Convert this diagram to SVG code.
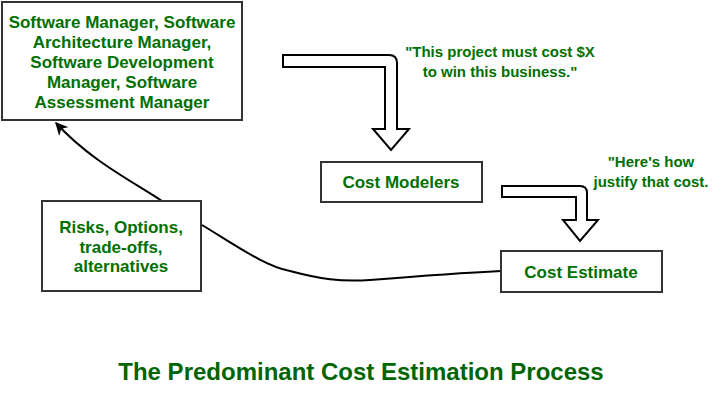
<svg xmlns="http://www.w3.org/2000/svg" width="722" height="402" viewBox="0 0 722 402">
<defs>
<style>
.box{fill:#fff;stroke:#333;stroke-width:2}
.t{font-family:"Liberation Sans",Arial,sans-serif;font-weight:bold;font-size:17px;fill:#007000;text-anchor:middle}
.q{font-size:15px}
.title{font-size:24px;fill:#006400}
.conn{fill:none;stroke:#000;stroke-width:2}
.hollow{fill:#fff;stroke:#000;stroke-width:2;stroke-linejoin:miter}
</style>
<marker id="ah" viewBox="0 0 10 10" refX="9" refY="5" markerWidth="13" markerHeight="13" orient="auto" markerUnits="userSpaceOnUse">
<path d="M0,0 L10,5 L0,10 L3,5 Z" fill="#000"/>
</marker>
</defs>
<rect width="722" height="402" fill="#fff"/>
<g id="connectors">
<path class="conn" d="M162,201 C130,180 90,160 56,123" marker-end="url(#ah)"/>
<path class="conn" d="M202,225 C240,248 265,266 290,271 C320,279 340,282 370,280 C420,276 460,273 501,271"/>
<path class="hollow" d="M283,55 L389,55 Q397,55 397,63 L397,129 L409,129 L391,150 L373,129 L385,129 L385,67 L283,67 Z"/>
<path class="hollow" d="M502,186 L580,186 Q587,186 587,193 L587,220 L598,220 L580,241 L563,220 L576,220 L576,197 L502,197 Z"/>
</g>
<g id="managers">
<rect class="box" x="2" y="2" width="240" height="118"/>
<text class="t" x="122" y="28">Software Manager, Software</text>
<text class="t" x="122" y="48">Architecture Manager,</text>
<text class="t" x="122" y="68">Software Development</text>
<text class="t" x="122" y="88">Manager, Software</text>
<text class="t" x="122" y="108">Assessment Manager</text>
</g>
<g id="risks">
<rect class="box" x="42" y="201" width="159" height="90"/>
<text class="t" x="121" y="233">Risks, Options,</text>
<text class="t" x="121" y="253">trade-offs,</text>
<text class="t" x="121" y="272">alternatives</text>
</g>
<g id="modelers">
<rect class="box" x="321" y="162" width="161" height="40"/>
<text class="t" x="401" y="188">Cost Modelers</text>
</g>
<g id="estimate">
<rect class="box" x="501" y="251" width="161" height="41"/>
<text class="t" x="581" y="278">Cost Estimate</text>
</g>
<g id="quote1">
<text class="t q" x="500" y="57">"This project must cost $X</text>
<text class="t q" x="500" y="77">to win this business."</text>
</g>
<g id="quote2">
<text class="t q" x="651" y="167">"Here's how</text>
<text class="t q" x="651" y="187">justify that cost.</text>
</g>
<text class="t title" x="361" y="380">The Predominant Cost Estimation Process</text>
</svg>
